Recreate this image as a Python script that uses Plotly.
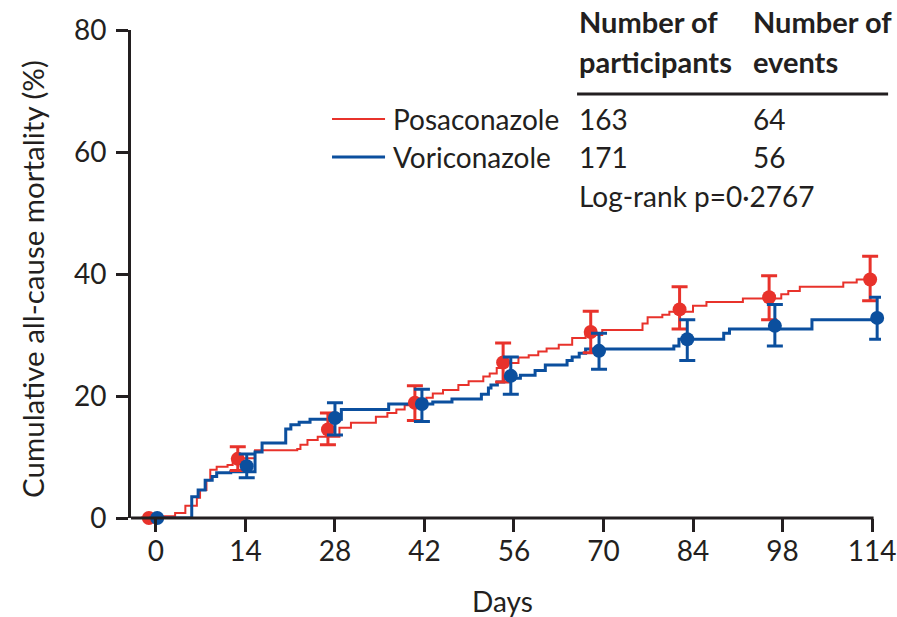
import plotly.graph_objects as go

# ---------------- data ----------------
pos_days = [0, 1.2, 3.0, 4.6, 6.4, 6.9, 7.9, 8.5, 9.5, 11.2, 12.0, 13.5, 15.5, 22.1, 22.6, 23.7, 25.3, 28.7, 30.5, 34.4,
            36.2, 37.6, 38.9, 42.3, 43.3, 44.9, 47.3, 48.9, 51.2, 52.2, 53.3, 54.3, 56.7, 58.3, 59.8, 61.1, 63.0, 65.1,
            67.2, 69.8, 76.1, 76.9, 79.2, 80.3, 84.0, 86.1, 91.8, 97.8, 98.9, 100.7, 107.5, 109.6, 112.0]
pos_cum = [0, 0.3, 0.8, 2.0, 3.3, 4.6, 6.2, 7.9, 8.4, 8.7, 9.2, 9.8, 11.1, 11.3, 12.0, 12.8, 13.3, 14.8, 15.6, 16.6,
           17.2, 17.8, 18.5, 19.7, 20.4, 21.0, 21.8, 22.4, 23.2, 23.7, 24.6, 25.4, 26.3, 26.7, 27.3, 27.8, 28.4, 29.5,
           30.0, 30.8, 31.9, 32.9, 33.3, 33.8, 34.8, 35.4, 36.0, 36.7, 37.2, 37.9, 38.6, 39.1, 39.1]

vor_days = [0, 5.6, 6.6, 7.7, 8.8, 9.5, 11.7, 15.5, 16.6, 20.3, 21.1, 22.4, 24.1, 29.0, 36.4, 43.3, 46.3, 50.9, 52.0,
            52.4, 53.4, 54.4, 57.0, 59.3, 60.9, 64.3, 65.1, 66.2, 67.2, 81.0, 81.8, 88.8, 89.7, 102.6, 113.0]
vor_cum = [0, 3.5, 4.6, 6.2, 6.8, 7.4, 7.6, 10.8, 12.3, 14.6, 15.3, 15.7, 16.2, 17.8, 18.7, 19.0, 19.5, 20.3, 21.3,
           21.8, 22.3, 22.9, 23.4, 24.2, 25.1, 25.8, 26.4, 27.0, 27.7, 28.2, 29.3, 30.3, 31.0, 32.5, 32.5]

pos_marker_days = [-1.1, 12.8, 26.9, 40.5, 54.3, 68.0, 81.9, 95.9, 111.7]
pos_est = [0, 9.7, 14.5, 18.9, 25.5, 30.5, 34.2, 36.2, 39.1]
pos_upper = [0, 11.7, 17.2, 21.7, 28.7, 33.9, 37.9, 39.7, 42.9]
pos_lower = [0, 7.8, 12.0, 16.0, 22.3, 27.1, 31.0, 32.5, 35.6]

vor_marker_days = [0.2, 14.2, 28.0, 41.6, 55.5, 69.3, 83.1, 96.8, 112.8]
vor_est = [0, 8.5, 16.4, 18.7, 23.3, 27.4, 29.3, 31.5, 32.8]
vor_upper = [0, 10.5, 18.9, 21.1, 26.4, 30.3, 32.5, 35.0, 36.2]
vor_lower = [0, 6.6, 13.6, 15.8, 20.3, 24.4, 25.8, 28.2, 29.3]

x_tick_vals = [0, 14, 28, 42, 56, 70, 84, 98, 112]
x_tick_text = ["0", "14", "28", "42", "56", "70", "84", "98", "114"]
y_tick_vals = [0, 20, 40, 60, 80]

groups = ["Posaconazole", "Voriconazole"]
participants = [163, 171]
events = [64, 56]
header_cols = [["Number of", "participants"], ["Number of", "events"]]
logrank_text = "Log-rank p=0·2767"
x_title = "Days"
y_title = "Cumulative all-cause mortality (%)"

# ---------------- style ----------------
RED = "#e8322b"
BLUE = "#0b4f9e"
INK = "#231f20"
FONT = "Lato"
FS = 28

W, H = 897, 617
X0, X1 = -3.9, 113.4          # x range (days)
PX_PER_DAY = 6.393
L, T, B = 131, 30, 99
PW = (X1 - X0) * PX_PER_DAY
R = W - L - PW
PH = H - T - B


def px(xp):
    return (xp - L) / PW


def py(yp):
    return (H - B - yp) / PH


fig = go.Figure()

for days, cum, col, wid, name in [(pos_days, pos_cum, RED, 2, groups[0]),
                                  (vor_days, vor_cum, BLUE, 3, groups[1])]:
    fig.add_trace(go.Scatter(x=days, y=cum, mode="lines", line=dict(color=col, width=wid, shape="hv"),
                             name=name, showlegend=False, hoverinfo="skip"))

for mx, est, up, lo, col in [(pos_marker_days, pos_est, pos_upper, pos_lower, RED),
                             (vor_marker_days, vor_est, vor_upper, vor_lower, BLUE)]:
    fig.add_trace(go.Scatter(
        x=mx, y=est, mode="markers",
        marker=dict(color=col, size=14, line=dict(width=0)),
        error_y=dict(type="data", symmetric=False,
                     array=[u - e for u, e in zip(up, est)],
                     arrayminus=[e - l for e, l in zip(est, lo)],
                     color=col, thickness=3, width=8),
        cliponaxis=False, showlegend=False, hoverinfo="skip"))

fig.update_layout(
    width=W, height=H, margin=dict(l=L, r=R, t=T, b=B, pad=0, autoexpand=False),
    paper_bgcolor="white", plot_bgcolor="white",
    font=dict(family=FONT, size=FS, color=INK),
    xaxis=dict(range=[X0, X1], tickvals=x_tick_vals, ticktext=x_tick_text,
               showgrid=False, zeroline=False, showline=False,
               ticks="outside", ticklen=13, tickwidth=3, tickcolor=INK,
               ticklabelstandoff=-5,
               tickfont=dict(size=FS, family=FONT, color=INK)),
    yaxis=dict(range=[0, 80], tickvals=y_tick_vals,
               showgrid=False, zeroline=False, showline=True, linecolor=INK, linewidth=3,
               ticks="outside", ticklen=12, tickwidth=3, tickcolor=INK,
               ticklabelstandoff=4,
               tickfont=dict(size=FS, family=FONT, color=INK)),
    showlegend=False,
)

ann = []
shapes = []
# x axis line: from the y axis to the last tick
shapes.append(dict(type="line", xref="paper", yref="paper", x0=0, x1=px(873.5), y0=0, y1=0,
                   line=dict(color=INK, width=3), layer="above"))
# axis titles
ann.append(dict(text=y_title, x=px(32), y=py(279), xref="paper", yref="paper", textangle=-90,
                showarrow=False, xanchor="center", yanchor="middle", font=dict(size=29.5, family=FONT, color=INK)))
ann.append(dict(text=x_title, x=px(502), y=py(601), xref="paper", yref="paper",
                showarrow=False, xanchor="center", yanchor="middle", font=dict(size=FS, family=FONT, color=INK)))
# header
col_x = [577, 751]
for cx, lines in zip(col_x, header_cols):
    for yy, t in zip([22, 62], lines):
        ann.append(dict(text="<b>" + t + "</b>", x=px(cx), y=py(yy), xref="paper", yref="paper",
                        showarrow=False, xanchor="left", yanchor="middle",
                        font=dict(size=29, family=FONT, color=INK)))
shapes.append(dict(type="line", xref="paper", yref="paper", x0=px(577), x1=px(888), y0=py(94), y1=py(94),
                   line=dict(color=INK, width=3)))
# rows
for yy, g, n, e, col, wid in zip([119, 157], groups, participants, events, [RED, BLUE], [2, 3]):
    shapes.append(dict(type="line", xref="paper", yref="paper", x0=px(332), x1=px(385), y0=py(yy), y1=py(yy),
                       line=dict(color=col, width=wid)))
    for xx, t in zip([391, col_x[0], col_x[1]], [g, str(n), str(e)]):
        ann.append(dict(text=t, x=px(xx), y=py(yy), xref="paper", yref="paper", showarrow=False,
                        xanchor="left", yanchor="middle", font=dict(size=FS, family=FONT, color=INK)))
ann.append(dict(text=logrank_text, x=px(col_x[0]), y=py(196), xref="paper", yref="paper", showarrow=False,
                xanchor="left", yanchor="middle", font=dict(size=FS, family=FONT, color=INK)))

fig.update_layout(annotations=ann, shapes=shapes)
fig.write_html("out.html", config={"displayModeBar": False},
               post_script="document.body.style.margin='0';")
